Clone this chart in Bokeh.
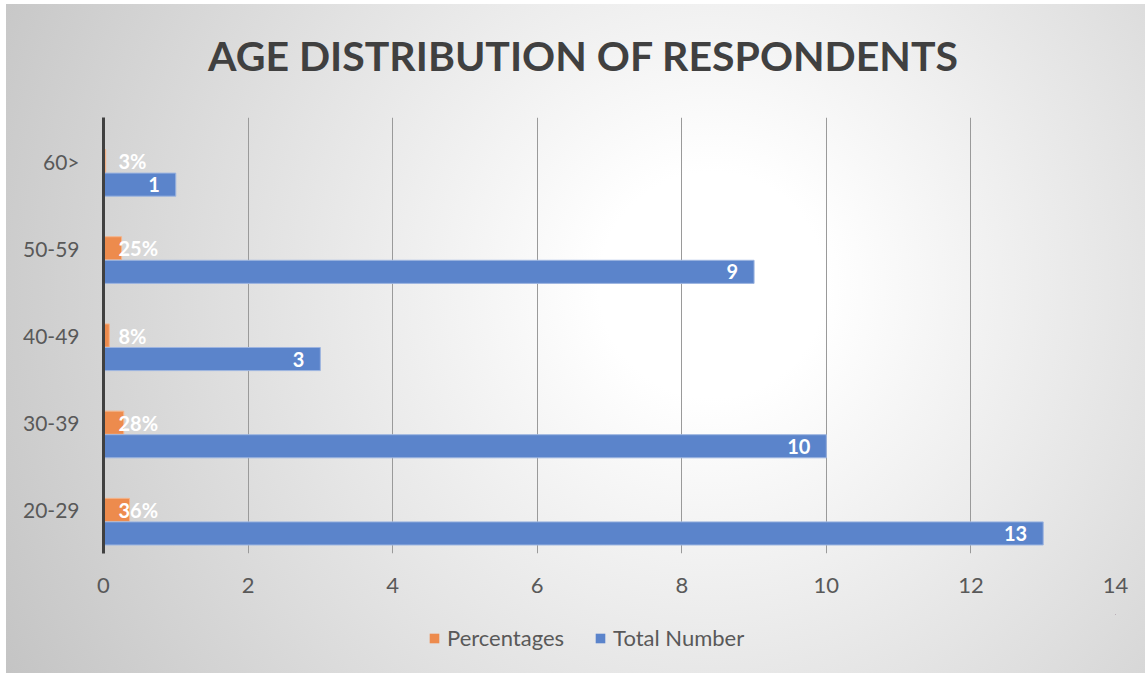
from bokeh.plotting import figure
from bokeh.layouts import column
from bokeh.models import (ColumnDataSource, FactorRange, Range1d, FixedTicker,
                          LabelSet, Label, Legend, LegendItem)
from bokeh.core.properties import value
from bokeh.transform import dodge
from bokeh.embed import file_html
from bokeh.resources import INLINE

# Survey data
age_groups = ["20-29", "30-39", "40-49", "50-59", "60>"]
percentages = [0.36, 0.28, 0.08, 0.25, 0.03]
totals = [13, 10, 3, 9, 1]
x_ticks = [0, 2, 4, 6, 8, 10, 12, 14]
series_names = ["Percentages", "Total Number"]
chart_title = "AGE DISTRIBUTION OF RESPONDENTS"

pct_text = [f"{round(v * 100)}%" for v in percentages]
tot_text = [str(v) for v in totals]

source = ColumnDataSource(dict(
    age=age_groups, pct=percentages, total=totals,
    pct_text=pct_text, tot_text=tot_text,
))

ORANGE = "#ED8B4D"
BLUE = "#5B84CB"
ORANGE_EDGE = "#F6B48A"
BLUE_EDGE = "#9DB5E0"
TEXT = "#595959"
FONT = "Lato"
W = 1139


def transparent(fig):
    fig.background_fill_color = None
    fig.border_fill_color = None
    fig.outline_line_color = None
    return fig


# ---- title strip (its frame lines up with the chart frame below) ----
p_title = transparent(figure(width=W, height=80, x_range=Range1d(0, 1),
                             y_range=Range1d(0, 1), min_border=0,
                             x_axis_location=None, y_axis_location=None,
                             output_backend="svg", toolbar_location=None))
p_title.grid.grid_line_color = None
p_title.add_layout(Label(x=480, y=29, x_units="screen", y_units="screen",
                         text=chart_title, text_align="center",
                         text_baseline="middle", text_font=FONT,
                         text_font_style="bold", text_font_size="41px",
                         text_color="#404040"))

# ---- main bar chart ----
p = transparent(figure(
    width=W, height=530,
    y_range=FactorRange(*age_groups),
    x_range=Range1d(0, 14),
    output_backend="svg", toolbar_location=None,
    min_border_left=97, min_border_right=30,
    min_border_top=33, min_border_bottom=61,
))

bar_h = 0.265
p.hbar(y=dodge("age", 0.0, range=p.y_range), right="pct", left=0,
       height=bar_h, source=source, fill_color=ORANGE,
       line_color=ORANGE_EDGE, line_width=1)
p.hbar(y=dodge("age", -0.27, range=p.y_range), right="total", left=0,
       height=bar_h, source=source, fill_color=BLUE,
       line_color=BLUE_EDGE, line_width=1)

# value labels
p.add_layout(LabelSet(x=0, y=dodge("age", 0.0, range=p.y_range), text="pct_text",
                      x_offset=15, source=source, text_align="left",
                      text_baseline="middle", text_color="white",
                      text_font=value(FONT), text_font_style="bold",
                      text_font_size="20px"))
p.add_layout(LabelSet(x="total", y=dodge("age", -0.27, range=p.y_range),
                      text="tot_text", x_offset=-16, source=source,
                      text_align="right", text_baseline="middle",
                      text_color="white", text_font=value(FONT),
                      text_font_style="bold", text_font_size="20px"))

# axes and grid
p.xaxis.ticker = FixedTicker(ticks=x_ticks)
p.xaxis.axis_line_color = None
p.xaxis.major_tick_line_color = None
p.xaxis.minor_tick_line_color = None
p.xaxis.major_label_text_font = FONT
p.xaxis.major_label_text_font_size = "22px"
p.xaxis.major_label_text_color = TEXT
p.xaxis.major_label_standoff = 18

p.yaxis.axis_line_color = "#404040"
p.yaxis.axis_line_width = 3
p.yaxis.major_tick_line_color = None
p.yaxis.minor_tick_line_color = None
p.yaxis.major_label_text_font = FONT
p.yaxis.major_label_text_font_size = "21px"
p.yaxis.major_label_text_color = TEXT
p.yaxis.major_label_standoff = 18

p.xgrid.grid_line_color = "#9a9a9a"
p.xgrid.grid_line_width = 1
p.ygrid.grid_line_color = None

# ---- legend strip: key renderers sit outside this strip's visible ranges ----
p_leg = transparent(figure(width=W, height=59, x_range=Range1d(-3, -2),
                           y_range=Range1d(-3, -2), min_border=0,
                           x_axis_location=None, y_axis_location=None,
                           output_backend="svg", toolbar_location=None))
p_leg.grid.grid_line_color = None
k_pct = p_leg.hbar(y="pct", left=0, right="pct", height=0.5, source=source,
                   fill_color=ORANGE, line_color=None)
k_tot = p_leg.hbar(y="total", left=0, right="total", height=0.5, source=source,
                   fill_color=BLUE, line_color=None)
legend = Legend(items=[LegendItem(label=series_names[0], renderers=[k_pct]),
                       LegendItem(label=series_names[1], renderers=[k_tot])],
                orientation="horizontal", location=(325, 22),
                padding=0, margin=0, spacing=30,
                glyph_width=12, glyph_height=12,
                label_text_font=FONT, label_text_font_size="22px",
                label_text_color=TEXT, label_standoff=7,
                background_fill_alpha=0, border_line_color=None)
p_leg.add_layout(legend, "center")

layout = column(p_title, p, p_leg, spacing=0)
layout.margin = (4, 0, 0, 6)
layout.styles = {
    "background": "radial-gradient(circle farthest-corner at 62% 42%, "
                  "#ffffff 0%, #ffffff 14%, #c4c4c4 100%)",
}

open("out.html", "w").write(file_html(layout, INLINE))
